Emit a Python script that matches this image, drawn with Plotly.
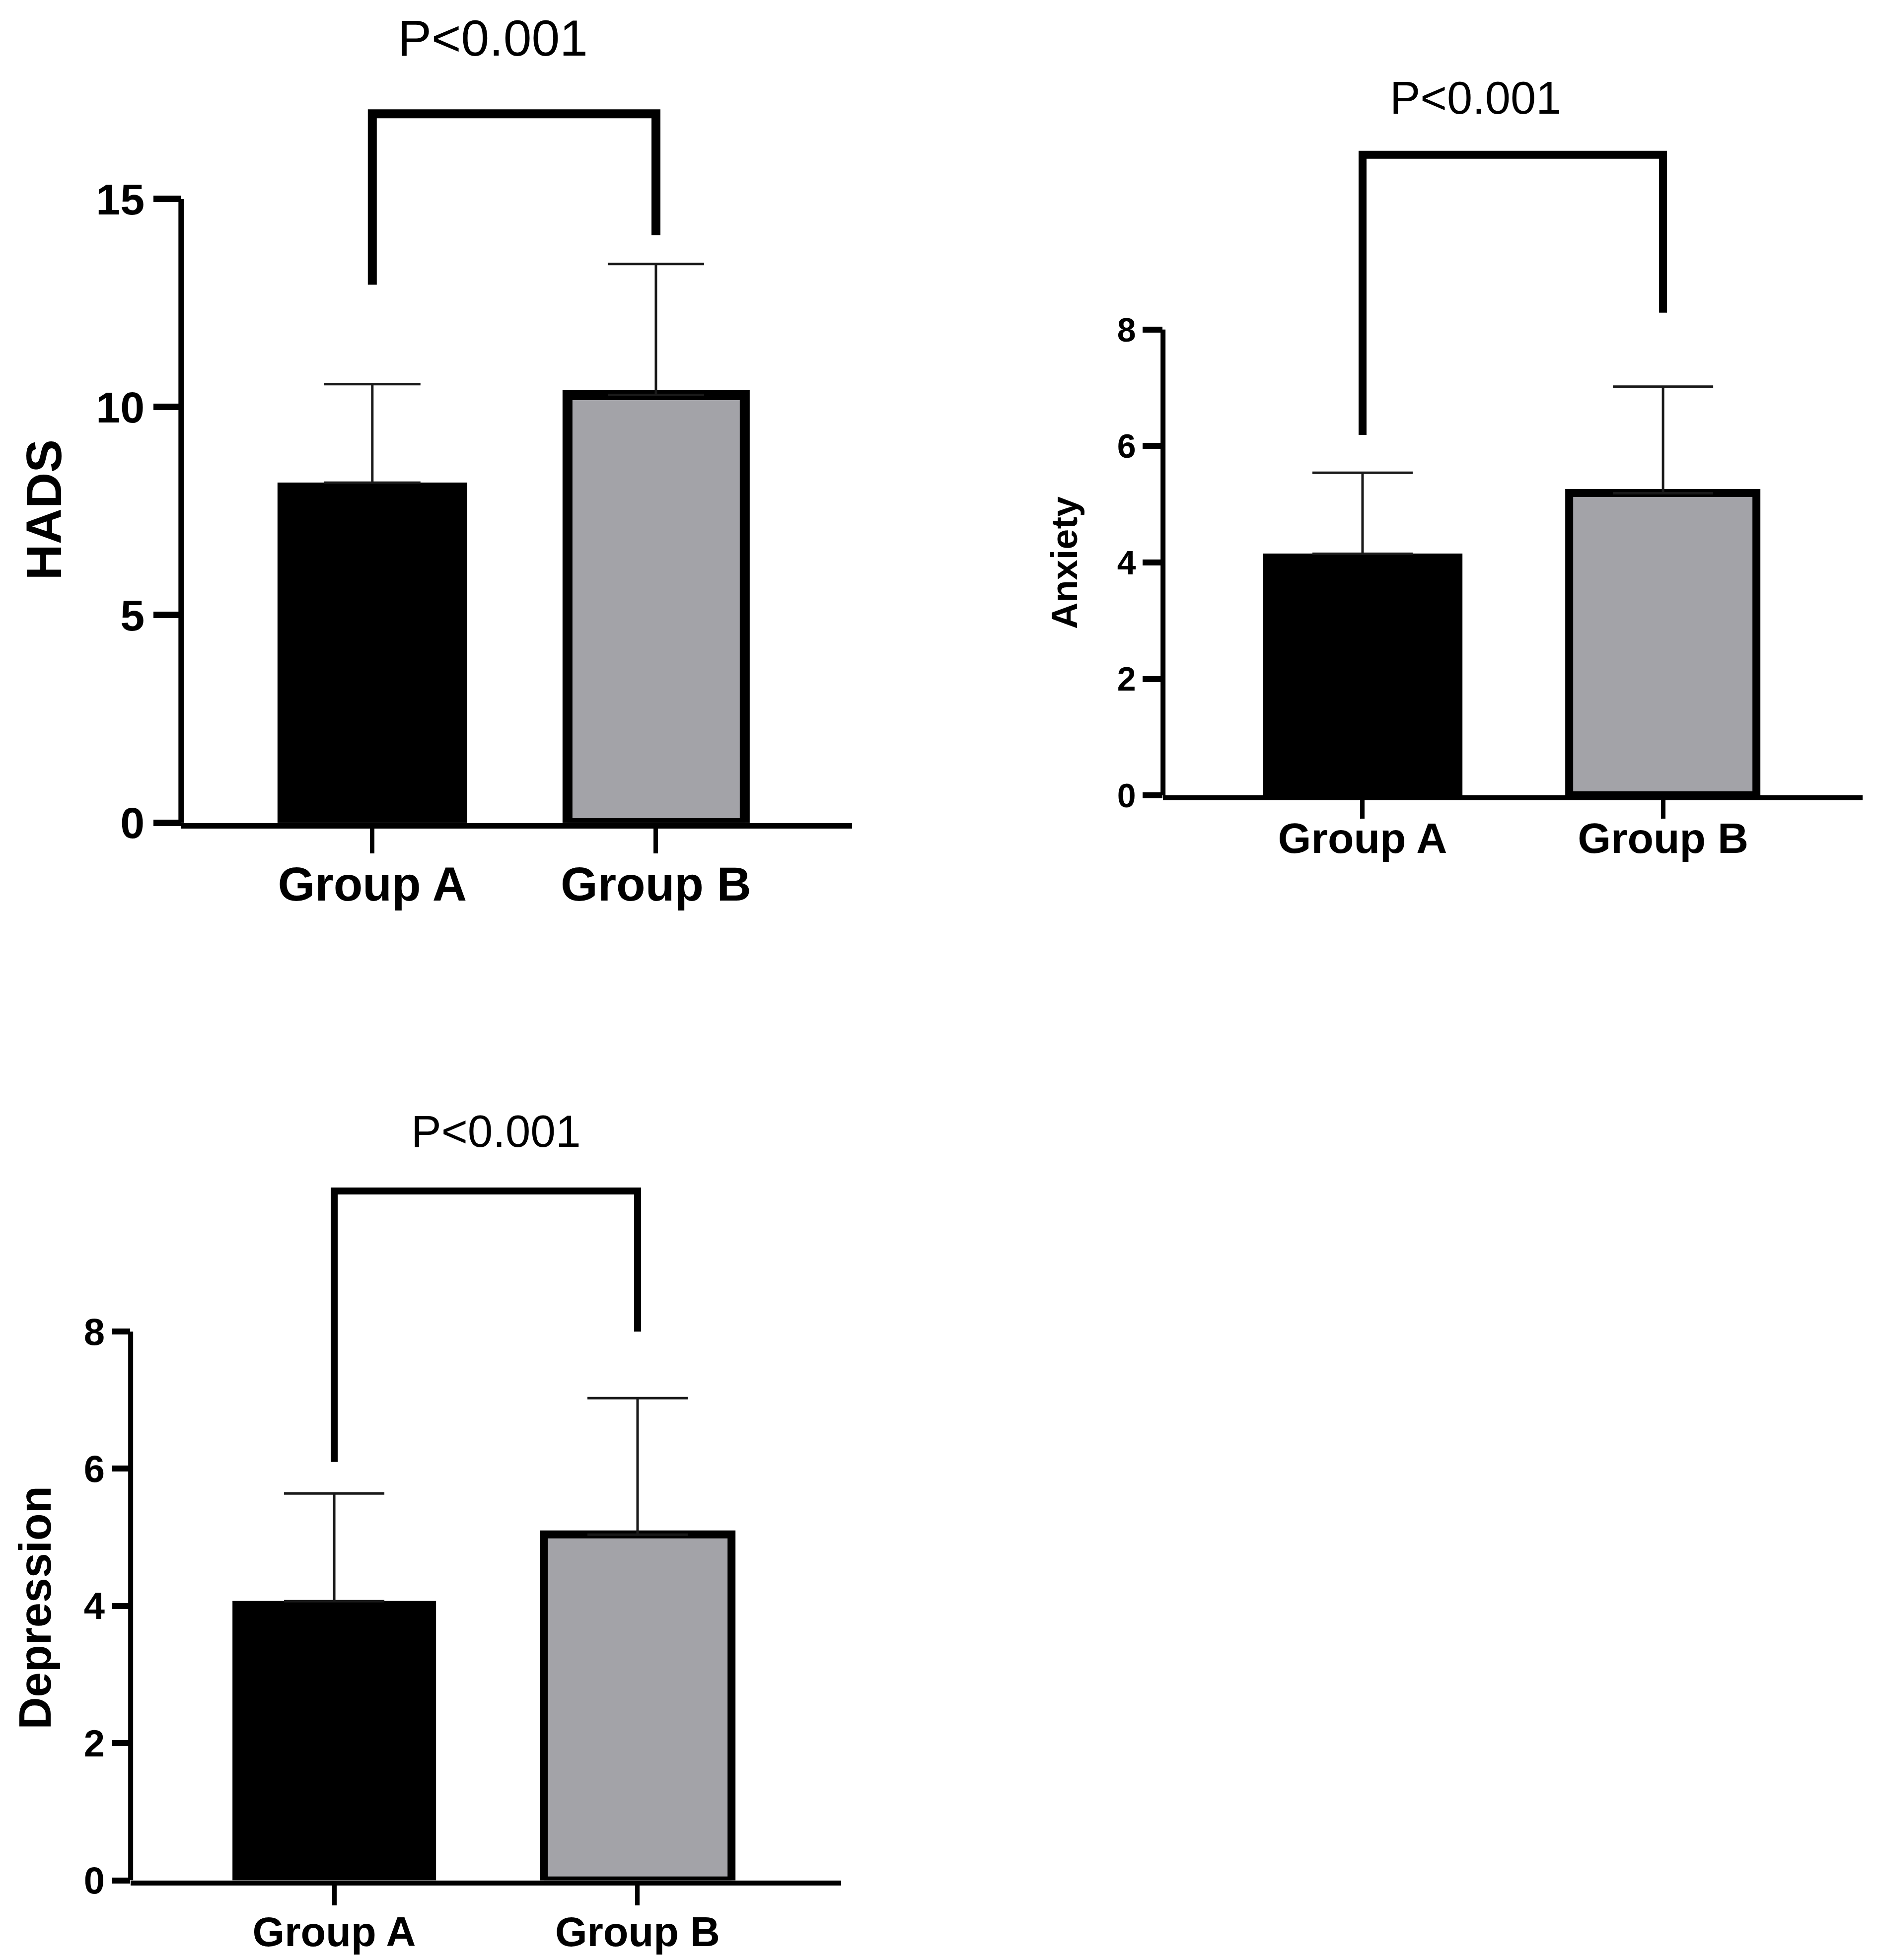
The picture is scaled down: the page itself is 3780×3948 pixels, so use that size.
import plotly.graph_objects as go

# ---------------- data ----------------
groups = ["Group A", "Group B"]

hads_mean = [8.18, 10.29]
hads_sd = [2.37, 3.15]

anxiety_mean = [4.15, 5.19]
anxiety_sd = [1.39, 1.83]

depression_mean = [4.07, 5.04]
depression_sd = [1.57, 1.99]

# significance brackets: [left foot, top, right foot] in data units
hads_bracket = [12.94, 17.05, 14.13]
anxiety_bracket = [6.19, 11.0, 8.29]
depression_bracket = [6.10, 10.05, 8.0]

p_label = "P<0.001"
hads_p_y = 18.87
anxiety_p_y = 11.98
depression_p_y = 10.92

hads_ticks = [0, 5, 10, 15]
anxiety_ticks = [0, 2, 4, 6, 8]
depression_ticks = [0, 2, 4, 6, 8]

FONT = "Liberation Sans, Arial, sans-serif"
BAR_A = "#000000"
BAR_B = "#a3a3a8"

fig = go.Figure()

panels = [
    dict(mean=hads_mean, sd=hads_sd, bracket=hads_bracket, py=hads_p_y, px=0.425, ticks=hads_ticks,
         xdom=[0.0944, 0.4519], ydom=[0.5768, 1.0], xr=[-0.674, 1.692], yr=[0, 19.69],
         bw=[0.67, 0.625], cap=97, axlw=11, brlw=18, blw=20, ytl=55, xtl=50, xstand=-20,
         tickfs=88, catfs=96, pfs=102, title="HADS", tfs=100, tx=0.0212, ty=0.7385),
    dict(mean=anxiety_mean, sd=anxiety_sd, bracket=anxiety_bracket, py=anxiety_p_y, px=0.376,
         ticks=anxiety_ticks,
         xdom=[0.6175, 0.9902], ydom=[0.591, 1.0], xr=[-0.664, 1.664], yr=[0, 13.59],
         bw=[0.664, 0.623], cap=101, axlw=10, brlw=16, blw=16, ytl=40, xtl=37, xstand=-34,
         tickfs=68, catfs=86, pfs=92, title="Anxiety", tfs=74, tx=0.565, ty=0.7113),
    dict(mean=depression_mean, sd=depression_sd, bracket=depression_bracket, py=depression_p_y,
         px=0.534, ticks=depression_ticks,
         xdom=[0.0675, 0.4460], ydom=[0.0304, 0.4554], xr=[-0.671, 1.671], yr=[0, 11.99],
         bw=[0.671, 0.619], cap=101, axlw=10, brlw=14, blw=16, ytl=36, xtl=40, xstand=-17,
         tickfs=76, catfs=83, pfs=91, title="Depression", tfs=90, tx=0.0167, ty=0.1713),
]

annotations = []
shapes = []
xpos = list(range(len(groups)))

for i, p in enumerate(panels):
    n = "" if i == 0 else str(i + 1)
    xa, ya = "x" + n, "y" + n
    fig.add_trace(go.Bar(
        x=xpos, y=p["mean"], width=p["bw"],
        marker=dict(color=[BAR_A, BAR_B],
                    line=dict(color="#000000", width=[0, p["blw"]])),
        error_y=dict(type="data", symmetric=False, array=p["sd"], arrayminus=[0, 0],
                     color="#1a1a1a", thickness=5, width=p["cap"]),
        xaxis=xa, yaxis=ya, showlegend=False,
    ))
    # significance bracket
    b = p["bracket"]
    fig.add_trace(go.Scatter(
        x=[xpos[0], xpos[0], xpos[1], xpos[1]], y=[b[0], b[1], b[1], b[2]],
        mode="lines", line=dict(color="#000000", width=p["brlw"]),
        xaxis=xa, yaxis=ya, showlegend=False, hoverinfo="skip",
    ))
    annotations.append(dict(
        x=p["px"], y=p["py"], xref=xa, yref=ya, text=p_label,
        showarrow=False, xanchor="center", yanchor="middle",
        font=dict(family=FONT, size=p["pfs"], color="#000000"),
    ))
    annotations.append(dict(
        x=p["tx"], y=p["ty"], xref="paper", yref="paper", text="<b>%s</b>" % p["title"],
        textangle=-90, showarrow=False, xanchor="center", yanchor="middle",
        font=dict(family=FONT, size=p["tfs"], color="#000000"),
    ))
    # y axis line only up to last tick
    shapes.append(dict(
        type="line", xref=xa + " domain", yref=ya, x0=0, x1=0,
        y0=p["ticks"][0], y1=p["ticks"][-1],
        line=dict(color="#000000", width=p["axlw"]),
    ))
    fig.update_layout(**{
        ("xaxis" + n): dict(
            domain=p["xdom"], range=p["xr"], anchor=ya,
            tickvals=xpos, ticktext=groups, ticks="outside", ticklen=p["xtl"],
            tickwidth=9, tickcolor="#000000", showline=True, linecolor="#000000",
            linewidth=p["axlw"], showgrid=False, zeroline=False,
            ticklabelstandoff=p["xstand"],
            tickfont=dict(family=FONT, size=p["catfs"], color="#000000", weight="bold"),
        ),
        ("yaxis" + n): dict(
            domain=p["ydom"], range=p["yr"], anchor=xa,
            tickvals=p["ticks"], ticks="outside", ticklen=p["ytl"], tickwidth=p["axlw"] + 2,
            tickcolor="#000000", showline=False, showgrid=False, zeroline=False,
            tickfont=dict(family=FONT, size=p["tickfs"], color="#000000", weight="bold"),
        ),
    })

fig.update_layout(
    width=3780, height=3948,
    margin=dict(l=0, r=0, t=0, b=0),
    paper_bgcolor="#ffffff", plot_bgcolor="rgba(0,0,0,0)",
    annotations=annotations, shapes=shapes,
    bargap=0, showlegend=False,
)

fig.write_html("out.html")
